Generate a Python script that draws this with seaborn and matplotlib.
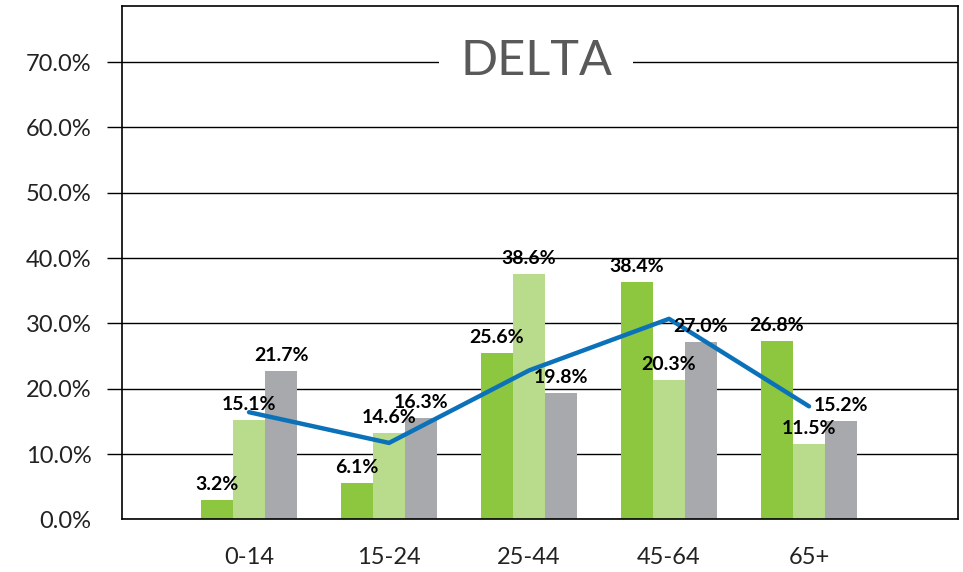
import numpy as np
import pandas as pd
import seaborn as sns
import matplotlib.pyplot as plt

sns.set_style("white")
plt.rcParams['font.family'] = ['Lato', 'DejaVu Sans']

# ---------------- data ----------------
age_groups = ["0-14", "15-24", "25-44", "45-64", "65+"]
series_names = ["Series 1", "Series 2", "Series 3"]

# bar heights as drawn in the picture
dark_heights = [2.9, 5.6, 25.5, 36.4, 27.3]
light_heights = [15.2, 13.2, 37.6, 21.3, 11.5]
gray_heights = [22.7, 15.5, 19.3, 27.1, 15.0]

# values printed above the bars
dark_labels = [3.2, 6.1, 25.6, 38.4, 26.8]
light_labels = [15.1, 14.6, 38.6, 20.3, 11.5]
gray_labels = [21.7, 16.3, 19.8, 27.0, 15.2]

# blue line
line_values = [16.4, 11.7, 22.8, 30.7, 17.3]

y_ticks = [0, 10, 20, 30, 40, 50, 60, 70]

colors = ["#8DC63F", "#B9DB8C", "#A7A9AC"]

df = pd.DataFrame({
    "age": age_groups * 3,
    "series": np.repeat(series_names, len(age_groups)),
    "value": dark_heights + light_heights + gray_heights,
})

# ---------------- plot ----------------
fig = plt.figure(figsize=(9.63, 5.72), dpi=100)
ax = fig.add_axes([0.1262, 0.0921, 0.8686, 0.8974])

sns.barplot(data=df, x="age", y="value", hue="series", palette=colors,
            width=0.686, gap=0, saturation=1, linewidth=0,
            legend=False, ax=ax)

sns.lineplot(x=np.arange(len(age_groups)), y=line_values, color="#0B72BA",
             linewidth=3.2, ax=ax)

for cont, labs in zip(ax.containers, [dark_labels, light_labels, gray_labels]):
    ax.bar_label(cont, labels=[f"{v:.1f}%" for v in labs], padding=5,
                 fontsize=14, fontweight='bold', color='black')

ax.set_xlim(-0.911, 5.064)
ax.set_ylim(0, 78.6)
ax.set_yticks(y_ticks)
ax.set_yticklabels([f"{v:.1f}%" for v in y_ticks])
ax.set_xlabel("")
ax.set_ylabel("")

ax.set_axisbelow(True)
ax.yaxis.grid(True, color='black', linewidth=1)
ax.tick_params(axis='y', length=10.5, width=1, color='black', pad=11,
               labelsize=17, labelcolor='#222222', left=True)
ax.tick_params(axis='x', length=0, pad=20, labelsize=17, labelcolor='#222222')
ax.yaxis.get_major_ticks()[0].tick1line.set_visible(False)

for sp in ax.spines.values():
    sp.set_visible(True)
    sp.set_color('black')
    sp.set_linewidth(1.2)

ax.text(2.05, 68.0, "DELTA", ha='center', va='baseline', fontsize=35,
        color='#595959', zorder=5,
        bbox=dict(facecolor='white', edgecolor='none', boxstyle='square,pad=0.43'))

fig.savefig("out.png", dpi=100)
